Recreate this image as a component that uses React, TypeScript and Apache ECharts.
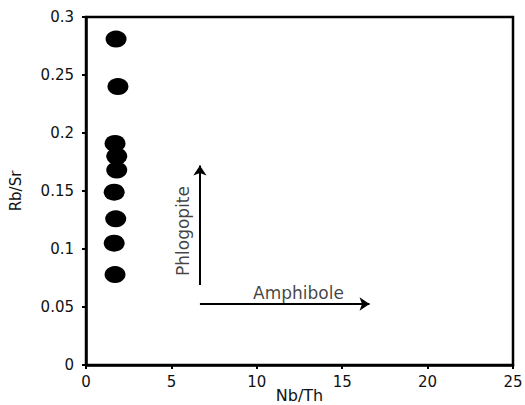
import React, { useEffect, useRef } from "react";
import * as echarts from "echarts";

const nbTh: number[] = [1.76, 1.87, 1.7, 1.8, 1.8, 1.65, 1.74, 1.65, 1.7];
const rbSr: number[] = [0.281, 0.24, 0.191, 0.18, 0.168, 0.149, 0.126, 0.105, 0.078];

const xTicks: number[] = [0, 5, 10, 15, 20, 25];
const yTicks: number[] = [0, 0.05, 0.1, 0.15, 0.2, 0.25, 0.3];

const phlogopiteArrow: number[][] = [[6.67, 0.069], [6.67, 0.172]];
const amphiboleArrow: number[][] = [[6.67, 0.0526], [16.6, 0.0526]];
const annotations = [
  { name: "Phlogopite", value: [5.68, 0.1155], rotate: 90 },
  { name: "Amphibole", value: [12.44, 0.0625], rotate: 0 },
];

const FONT = "DejaVu Sans";

export default function App() {
  const ref = useRef<HTMLDivElement>(null);
  useEffect(() => {
    document.body.style.margin = "0";
    if (!ref.current) return;
    const chart = echarts.init(ref.current, undefined, { renderer: "svg" });
    chart.setOption({
      animation: false,
      backgroundColor: "#ffffff",
      grid: {
        left: 86,
        right: 12,
        top: 17,
        bottom: 40,
        outerBoundsMode: "none",
        containLabel: false,
        show: true,
        borderColor: "#000",
        borderWidth: 2.5,
        backgroundColor: "transparent",
      },
      xAxis: {
        type: "value",
        min: xTicks[0],
        max: xTicks[xTicks.length - 1],
        interval: 5,
        name: "Nb/Th",
        nameLocation: "middle",
        nameGap: 22,
        nameMoveOverlap: false,
        nameTextStyle: { fontFamily: FONT, fontSize: 16, color: "#111", lineHeight: 16 },
        splitLine: { show: false },
        axisLine: { lineStyle: { color: "#000", width: 2.5 } },
        axisTick: { show: true, length: 4, lineStyle: { color: "#000", width: 2 } },
        axisLabel: {
          fontFamily: FONT,
          fontSize: 15,
          color: "#111",
          margin: 9,
          formatter: (v: number) => String(v),
        },
      },
      yAxis: {
        type: "value",
        min: yTicks[0],
        max: yTicks[yTicks.length - 1],
        interval: 0.05,
        name: "Rb/Sr",
        nameLocation: "middle",
        nameGap: 63,
        nameMoveOverlap: false,
        nameTextStyle: { fontFamily: FONT, fontSize: 15, color: "#111" },
        splitLine: { show: false },
        axisLine: { lineStyle: { color: "#000", width: 2.5 } },
        axisTick: { show: true, length: 4, lineStyle: { color: "#000", width: 2 } },
        axisLabel: {
          fontFamily: FONT,
          fontSize: 15,
          color: "#111",
          margin: 12,
          formatter: (v: number) => String(Math.round(v * 100) / 100),
        },
      },
      series: [
        {
          type: "scatter",
          symbol: "circle",
          symbolSize: [21, 17],
          itemStyle: { color: "#000", opacity: 1 },
          data: nbTh.map((x, i) => [x, rbSr[i]]),
          z: 3,
        },
        {
          type: "lines",
          coordinateSystem: "cartesian2d",
          symbol: ["none", "arrow"],
          symbolSize: 10,
          lineStyle: { color: "#000", width: 2, opacity: 1 },
          data: [{ coords: phlogopiteArrow }, { coords: amphiboleArrow }],
          z: 2,
        },
        {
          type: "scatter",
          symbolSize: 1,
          itemStyle: { color: "transparent" },
          silent: true,
          data: annotations.map((a) => ({
            name: a.name,
            value: a.value,
            label: {
              show: true,
              position: "inside",
              formatter: a.name,
              rotate: a.rotate,
              fontFamily: FONT,
              fontSize: 17,
              color: "#111",
            },
          })),
          z: 4,
        },
      ],
    });
    return () => chart.dispose();
  }, []);
  return <div ref={ref} style={{ width: 525, height: 405 }} />;
}
